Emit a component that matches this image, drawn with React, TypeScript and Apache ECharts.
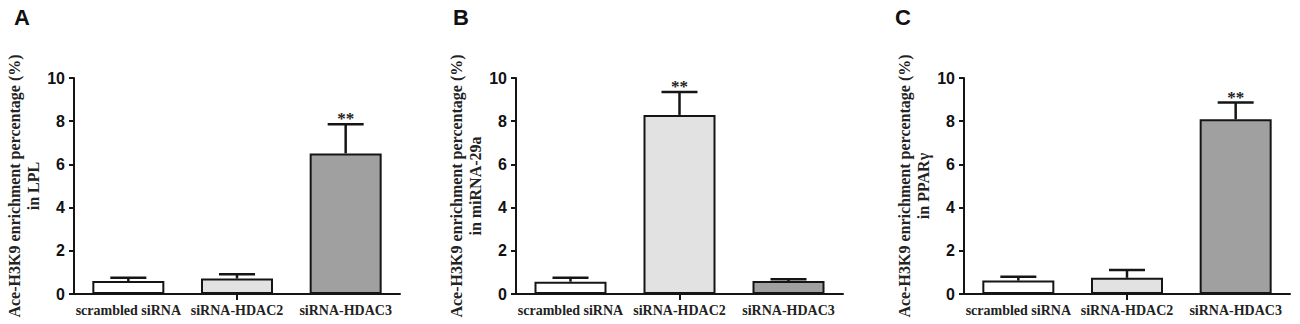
import React, { useEffect, useRef } from 'react';
import * as echarts from 'echarts';

const categories = ['scrambled siRNA', 'siRNA-HDAC2', 'siRNA-HDAC3'];
const panelLetters = ['A', 'B', 'C'];
const yTitles = [
  'Ace-H3K9 enrichment percentage (%)\nin LPL',
  'Ace-H3K9 enrichment percentage (%)\nin miRNA-29a',
  'Ace-H3K9 enrichment percentage (%)\nin PPARγ',
];
const meanA = [0.6, 0.72, 6.51];
const upperA = [0.75, 0.91, 7.86];
const sigA = ['', '', '**'];
const meanB = [0.57, 8.29, 0.6];
const upperB = [0.75, 9.35, 0.68];
const sigB = ['', '**', ''];
const meanC = [0.62, 0.75, 8.09];
const upperC = [0.8, 1.11, 8.86];
const sigC = ['', '', '**'];
const yMin = 0;
const yMax = 10;
const yInterval = 2;
const barColors = ['#ffffff', '#e2e2e2', '#a0a0a0'];

const panels = [
  { mean: meanA, upper: upperA, sig: sigA, left: 74, width: 326, letterX: 14 },
  { mean: meanB, upper: upperB, sig: sigB, left: 516, width: 327, letterX: 453 },
  { mean: meanC, upper: upperC, sig: sigC, left: 964, width: 326, letterX: 895 },
];

export default function App() {
  const ref = useRef<HTMLDivElement>(null);
  useEffect(() => {
    if (!ref.current) return;
    const chart = echarts.init(ref.current, undefined, { renderer: 'svg' });
    const ink = '#151515';
    const grid = panels.map((p) => ({ left: p.left, width: p.width, top: 78, bottom: 30 }));
    const xAxis = panels.map((p, i) => ({
      type: 'category',
      gridIndex: i,
      data: categories,
      axisLine: { show: true, lineStyle: { color: ink, width: 2 } },
      axisTick: {
        show: true,
        alignWithLabel: true,
        interval: (idx: number) => idx === 1,
        length: 6,
        lineStyle: { color: ink, width: 2 },
      },
      axisLabel: {
        fontFamily: 'Liberation Serif',
        fontWeight: 'bold',
        fontSize: 14,
        color: '#222',
        margin: 9,
        interval: 0,
      },
    }));
    const yAxis = panels.map((p, i) => ({
      type: 'value',
      gridIndex: i,
      min: yMin,
      max: yMax,
      interval: yInterval,
      splitLine: { show: false },
      axisLine: { show: true, lineStyle: { color: ink, width: 2 } },
      axisTick: { show: true, length: 5, lineStyle: { color: ink, width: 2 } },
      axisLabel: {
        fontFamily: 'Liberation Sans',
        fontWeight: 'bold',
        fontSize: 16,
        color: '#111',
        margin: 9,
      },
      name: yTitles[i],
      nameLocation: 'middle',
      nameRotate: 90,
      nameGap: 30,
      nameTextStyle: {
        fontFamily: 'Liberation Serif',
        fontWeight: 'bold',
        fontSize: 16,
        lineHeight: 19,
        color: '#222',
        align: 'center',
      },
    }));
    const series: any[] = [];
    panels.forEach((p, i) => {
      series.push({
        type: 'bar',
        xAxisIndex: i,
        yAxisIndex: i,
        barWidth: 72,
        data: p.mean.map((v, j) => ({
          value: v,
          itemStyle: { color: barColors[j], borderColor: ink, borderWidth: 2 },
        })),
        z: 2,
      });
      series.push({
        type: 'custom',
        xAxisIndex: i,
        yAxisIndex: i,
        z: 3,
        encode: { x: 0, y: [1, 2] },
        data: p.mean.map((v, j) => [j, v, p.upper[j]]),
        renderItem: (params: any, api: any) => {
          const x = api.value(0);
          const p1 = api.coord([x, api.value(1)]);
          const p2 = api.coord([x, api.value(2)]);
          const half = 18;
          const style = { stroke: ink, lineWidth: 2.5 };
          const children: any[] = [
            { type: 'line', shape: { x1: p1[0], y1: p1[1], x2: p2[0], y2: p2[1] }, style },
            { type: 'line', shape: { x1: p2[0] - half, y1: p2[1], x2: p2[0] + half, y2: p2[1] }, style },
          ];
          const s = p.sig[params.dataIndex];
          if (s) {
            children.push({
              type: 'text',
              x: p2[0],
              y: p2[1] + 3,
              style: {
                text: s,
                fill: '#222',
                font: 'bold 17px "Liberation Serif"',
                textAlign: 'center',
                textVerticalAlign: 'bottom',
              },
            });
          }
          return { type: 'group', children };
        },
      });
    });
    const graphic = panels.map((p, i) => ({
      type: 'text',
      left: p.letterX,
      top: 6,
      style: {
        text: panelLetters[i],
        fill: '#111',
        font: 'bold 22px "Liberation Sans"',
      },
    }));
    chart.setOption({
      animation: false,
      backgroundColor: '#ffffff',
      grid,
      xAxis,
      yAxis,
      series,
      graphic,
    } as any);
    return () => chart.dispose();
  }, []);
  return (
    <div
      ref={ref}
      style={{ position: 'fixed', left: 0, top: 0, width: 1300, height: 324 }}
    />
  );
}
